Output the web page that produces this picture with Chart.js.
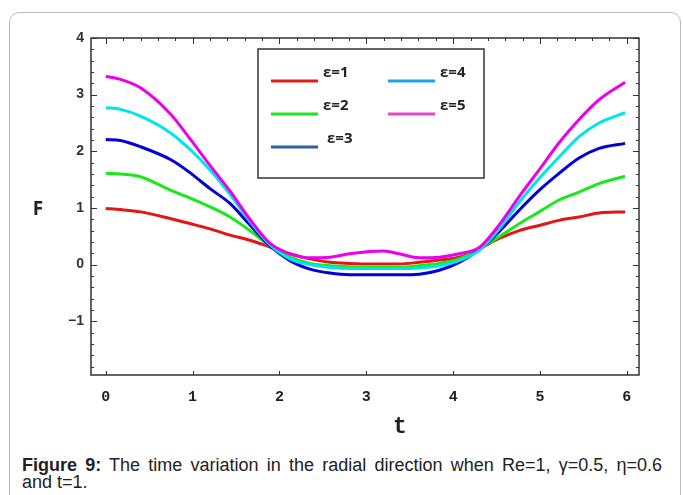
<!DOCTYPE html>
<html lang="en">
  <head>
    <meta charset="UTF-8" />
    <title>Figure 9 - F(t)</title>
    <script src="https://cdn.jsdelivr.net/npm/chart.js"></script>
    <style>
      body {
        margin: 0;
        width: 683px;
        height: 495px;
        overflow: hidden;
        background: #fff;
        position: relative;
      }
      .card {
        position: absolute;
        left: 9px;
        top: 12px;
        width: 672px;
        height: 600px;
        border: 1px solid #bdbdbd;
        border-radius: 10px;
        box-sizing: border-box;
      }
      #plot {
        position: absolute;
        left: 0;
        top: 0;
      }
      .caption {
        position: absolute;
        left: 22px;
        top: 457px;
        width: 640px;
        font-family: "Liberation Sans Narrow", "Liberation Sans", Arial, sans-serif;
        font-size: 18px;
        line-height: 17px;
        color: #222;
      }
      .caption .first {
        text-align: justify;
        text-align-last: justify;
      }
    </style>
  </head>
  <body>
    <div class="card"></div>
    <canvas id="plot" width="683" height="440"></canvas>
    <div class="caption">
      <div class="first"><b>Figure 9:</b> The time variation in the radial direction when Re=1, γ=0.5, η=0.6</div>
      <div>and t=1.</div>
    </div>

    <script>
      // Zeitpunkte t
      const tValues = [
        0, 0.17, 0.4, 0.75, 0.98, 1.2, 1.43, 1.66, 1.89, 2.12, 2.35, 2.58, 2.81,
        3.04, 3.2, 3.38, 3.61, 3.84, 4.07, 4.3, 4.53, 4.76, 4.99, 5.22, 5.45,
        5.68, 5.98,
      ];

      // F für die einzelnen epsilon-Werte
      const eps1 = [
        0.99, 0.97, 0.93, 0.81, 0.72, 0.63, 0.52, 0.43, 0.31, 0.19, 0.1, 0.04,
        0.02, 0.01, 0.01, 0.01, 0.04, 0.08, 0.13, 0.28, 0.46, 0.6, 0.69, 0.78,
        0.84, 0.91, 0.93,
      ];
      const eps2 = [
        1.61, 1.6, 1.55, 1.31, 1.17, 1.02, 0.84, 0.6, 0.33, 0.13, 0.02, -0.02,
        -0.04, -0.05, -0.05, -0.05, -0.02, 0.02, 0.1, 0.28, 0.49, 0.72, 0.93,
        1.14, 1.28, 1.43, 1.56,
      ];
      const eps3 = [
        2.21, 2.19, 2.08, 1.85, 1.61, 1.34, 1.08, 0.7, 0.33, 0.07, -0.08, -0.15,
        -0.18, -0.18, -0.18, -0.18, -0.17, -0.1, 0.04, 0.26, 0.58, 0.96, 1.31,
        1.61, 1.88, 2.05, 2.14,
      ];
      const eps4 = [
        2.77, 2.74, 2.62, 2.32, 2.02, 1.67, 1.24, 0.76, 0.35, 0.1, 0.0, -0.05,
        -0.07, -0.07, -0.07, -0.07, -0.06, -0.02, 0.07, 0.25, 0.63, 1.1, 1.52,
        1.9, 2.26, 2.5, 2.68,
      ];
      const eps5 = [
        3.32, 3.27, 3.12, 2.65, 2.2, 1.75, 1.3, 0.8, 0.38, 0.19, 0.12, 0.13,
        0.19, 0.23, 0.24, 0.19, 0.12, 0.13, 0.19, 0.3, 0.7, 1.2, 1.67, 2.15,
        2.56, 2.91, 3.22,
      ];

      const seriesLabels = ["ε=1", "ε=2", "ε=3", "ε=4", "ε=5"];
      const seriesValues = [eps1, eps2, eps3, eps4, eps5];
      const lineColors = [
        "rgb(230, 20, 20)",
        "rgb(25, 232, 25)",
        "rgb(0, 0, 215)",
        "rgb(0, 228, 236)",
        "rgb(236, 0, 236)",
      ];
      // Legendenfarben weichen leicht von den Kurven ab
      const legendColors = ["#e31b1b", "#1ee61e", "#2b62a3", "#1ea5e3", "#e346c8"];

      const xTickLabels = [0, 1, 2, 3, 4, 5, 6];
      const yTickLabels = [-1, 0, 1, 2, 3, 4];

      // Rahmen mit nach innen zeigenden Ticks (oben/links/rechts mit Zwischenticks)
      const framePlugin = {
        id: "frame",
        afterDatasetsDraw(chart) {
          const { ctx, chartArea: a, scales } = chart;
          const xs = scales.x;
          const ys = scales.y;
          ctx.save();
          ctx.strokeStyle = "#333";
          ctx.lineWidth = 1.5;
          ctx.strokeRect(a.left, a.top, a.right - a.left, a.bottom - a.top);
          ctx.lineWidth = 1;
          ctx.beginPath();
          for (let v = -1.8; v <= 4.001; v += 0.2) {
            const y = Math.round(ys.getPixelForValue(v)) + 0.5;
            const major = Math.abs(v - Math.round(v)) < 0.01;
            const len = major ? 6 : 3;
            ctx.moveTo(a.left, y);
            ctx.lineTo(a.left + len, y);
            ctx.moveTo(a.right, y);
            ctx.lineTo(a.right - len, y);
          }
          for (let v = 0; v <= 6.001; v += 0.2) {
            const x = Math.round(xs.getPixelForValue(v)) + 0.5;
            const major = Math.abs(v - Math.round(v)) < 0.01;
            ctx.moveTo(x, a.top);
            ctx.lineTo(x, a.top + (major ? 6 : 3));
            if (major) {
              ctx.moveTo(x, a.bottom);
              ctx.lineTo(x, a.bottom - 4);
            }
          }
          ctx.stroke();
          ctx.restore();
        },
      };

      // Achsenbeschriftungen F und t
      const axisTitlePlugin = {
        id: "axisTitles",
        afterDraw(chart) {
          const { ctx } = chart;
          ctx.save();
          ctx.fillStyle = "#222";
          ctx.textAlign = "center";
          ctx.textBaseline = "middle";
          ctx.font = "bold 19px 'Open Sans', sans-serif";
          ctx.fillText("F", 38, 210);
          ctx.font = "bold 23px 'Liberation Mono', monospace";
          ctx.fillText("t", 400, 427);
          ctx.restore();
        },
      };

      // Legende als Kasten innerhalb des Plots
      const legendBoxPlugin = {
        id: "legendBox",
        afterDraw(chart) {
          const { ctx } = chart;
          const box = { left: 258, top: 49, width: 226, height: 129 };
          ctx.save();
          ctx.fillStyle = "#fff";
          ctx.fillRect(box.left, box.top, box.width, box.height);
          ctx.strokeStyle = "#333";
          ctx.lineWidth = 1.5;
          ctx.strokeRect(box.left, box.top, box.width, box.height);
          ctx.font = "bold 15px 'Open Sans', sans-serif";
          ctx.textBaseline = "middle";
          ctx.textAlign = "left";
          chart.data.datasets.forEach((ds, i) => {
            const col = i < 3 ? 0 : 1;
            const row = i < 3 ? i : i - 3;
            const x0 = box.left + 13 + col * 117;
            const y0 = box.top + 32 + row * 33;
            ctx.strokeStyle = legendColors[i];
            ctx.lineWidth = 3;
            ctx.beginPath();
            ctx.moveTo(x0, y0);
            ctx.lineTo(x0 + 47, y0);
            ctx.stroke();
            ctx.fillStyle = "#222";
            ctx.fillText(ds.label, x0 + (i === 2 ? 56 : 52), y0 - 8);
          });
          ctx.restore();
        },
      };

      const datasets = seriesValues.map((values, i) => ({
        label: seriesLabels[i],
        data: tValues.map((t, k) => ({ x: t, y: values[k] })),
        borderColor: lineColors[i],
        borderWidth: 3,
        pointRadius: 0,
        fill: false,
        cubicInterpolationMode: "monotone",
        order: seriesValues.length - i,
      }));

      const ctx = document.getElementById("plot").getContext("2d");
      const chart = new Chart(ctx, {
        type: "line",
        data: { datasets: datasets },
        options: {
          responsive: false,
          animation: false,
          layout: { padding: { top: 38, right: 44, left: 0, bottom: 0 } },
          plugins: {
            legend: { display: false },
            tooltip: { enabled: false },
          },
          scales: {
            x: {
              type: "linear",
              min: -0.17,
              max: 6.14,
              grid: { display: false, drawTicks: false },
              border: { display: false },
              afterBuildTicks: (scale) => {
                scale.ticks = xTickLabels.map((v) => ({ value: v }));
              },
              afterFit: (scale) => {
                scale.height = 65;
              },
              ticks: {
                padding: 13,
                color: "#222",
                maxRotation: 0,
                font: { family: "'Liberation Mono', monospace", size: 15, weight: "bold" },
              },
            },
            y: {
              type: "linear",
              min: -1.95,
              max: 4,
              grid: { display: false, drawTicks: false },
              border: { display: false },
              afterBuildTicks: (scale) => {
                scale.ticks = yTickLabels.map((v) => ({ value: v }));
              },
              afterFit: (scale) => {
                scale.width = 91;
              },
              ticks: {
                padding: 7,
                color: "#333",
                font: { family: "'Liberation Sans', Arial, sans-serif", size: 14, weight: "bold" },
                callback: (v) => (v < 0 ? "\u2212" + Math.abs(v) : String(v)),
              },
            },
          },
        },
        plugins: [framePlugin, axisTitlePlugin, legendBoxPlugin],
      });
    </script>
  </body>
</html>
